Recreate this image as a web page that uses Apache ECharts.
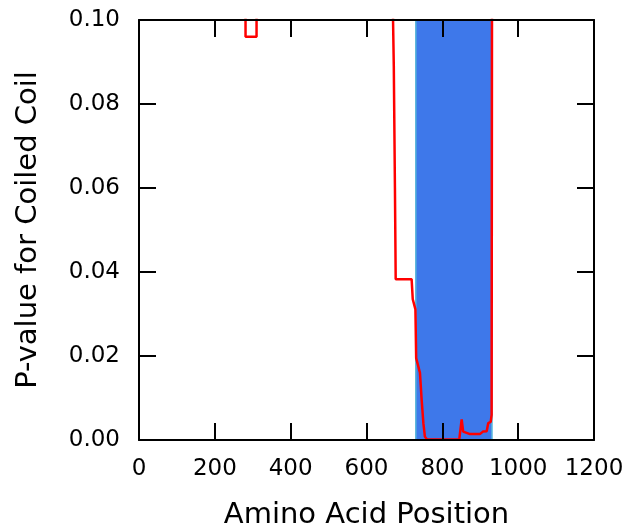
<!DOCTYPE html>
<html>
<head>
<meta charset="utf-8">
<script src="https://cdn.jsdelivr.net/npm/echarts@6/dist/echarts.min.js"></script>
<style>html,body{margin:0;padding:0;background:#fff}#c{width:628px;height:531px}</style>
</head>
<body>
<div id="c"></div>
<script>
// Amino acid positions and P-values (values above 0.10 are clipped out of view)
const positions = [1, 100, 200, 270, 279, 281, 310, 312, 320, 400, 500, 600, 660, 668, 670, 672, 675, 677, 719, 722, 726.5, 729, 731, 736, 741, 745.5, 750, 754, 759.5, 800, 844.6, 851, 855, 864, 873, 899, 907, 917, 921, 927.5, 930, 933, 940, 1000];
const pvalues   = [0.6, 0.55, 0.5, 0.4, 0.3, 0.096, 0.096, 0.3, 0.4, 0.55, 0.5, 0.45, 0.35, 0.3, 0.1, 0.089, 0.06, 0.0383, 0.0383, 0.0335, 0.0333, 0.0311, 0.0195, 0.0193, 0.016, 0.0095, 0.004, 0.0008, 0.0001, 0.0001, 0.0001, 0.0049, 0.002, 0.0017, 0.0014, 0.0014, 0.002, 0.0021, 0.004, 0.0043, 0.006, 0.3, 0.5, 0.6];
// Predicted coiled-coil region
const coilRegion = [730, 931];
const xTicks = [0, 200, 400, 600, 800, 1000, 1200];
const yTicks = [0, 0.02, 0.04, 0.06, 0.08, 0.10];

const chart = echarts.init(document.getElementById('c'));
const font = 'DejaVu Sans';
const tickStyle = {inside: true, length: 17, lineStyle: {color: '#000', width: 2}};
const axLine = {show: true, onZero: false, lineStyle: {color: '#000', width: 2}};
chart.setOption({
  animation: false,
  grid: {left: 139, right: 34, top: 20, bottom: 91, containLabel: false, outerBoundsMode: 'none'},
  xAxis: [{
    type: 'value', position: 'bottom', min: xTicks[0], max: xTicks[xTicks.length-1], interval: 200, z: 10,
    axisLine: axLine, axisTick: tickStyle, splitLine: {show: false},
    axisLabel: {fontFamily: font, fontSize: 23, color: '#000', margin: 18, formatter: v => String(v)},
    name: 'Amino Acid Position', nameLocation: 'middle', nameGap: 61,
    nameTextStyle: {fontFamily: font, fontSize: 29, color: '#000'}
  }, {
    type: 'value', position: 'top', min: xTicks[0], max: xTicks[xTicks.length-1], interval: 200, z: 10,
    axisLine: axLine, axisTick: tickStyle, splitLine: {show: false},
    axisLabel: {show: false}
  }],
  yAxis: [{
    type: 'value', position: 'left', min: yTicks[0], max: yTicks[yTicks.length-1], interval: 0.02, z: 10,
    axisLine: axLine, axisTick: tickStyle, splitLine: {show: false},
    axisLabel: {fontFamily: font, fontSize: 23, color: '#000', margin: 19, formatter: v => v.toFixed(2)},
    name: 'P-value for Coiled Coil', nameLocation: 'middle', nameGap: 96, nameRotate: 90,
    nameTextStyle: {fontFamily: font, fontSize: 29, color: '#000'}
  }, {
    type: 'value', position: 'right', min: yTicks[0], max: yTicks[yTicks.length-1], interval: 0.02, z: 10,
    axisLine: axLine, axisTick: tickStyle, splitLine: {show: false},
    axisLabel: {show: false}
  }],
  series: [{
    type: 'line', data: [], z: 1,
    markArea: {
      silent: true,
      itemStyle: {color: '#3e78ea', borderColor: '#5ab8dc', borderWidth: 1.5},
      data: [[{xAxis: coilRegion[0]}, {xAxis: coilRegion[1]}]]
    }
  }, {
    type: 'line', z: 3, clip: true, showSymbol: false, symbol: 'none',
    lineStyle: {color: '#ff0000', width: 2.5},
    data: positions.map((p, i) => [p, pvalues[i]])
  }]
});
</script>
</body>
</html>
